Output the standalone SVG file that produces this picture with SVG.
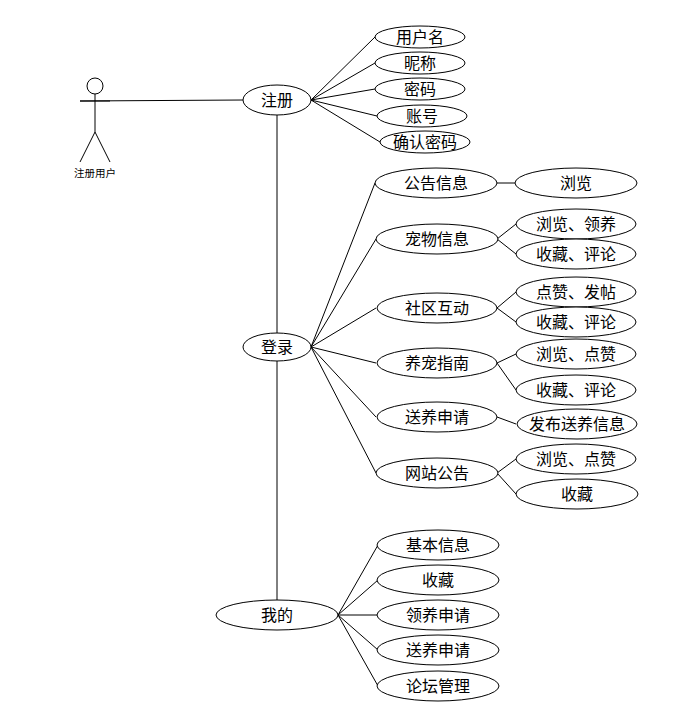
<svg xmlns="http://www.w3.org/2000/svg" width="687" height="718" viewBox="0 0 687 718">
<style>
ellipse{fill:#fff;stroke:#000;stroke-width:1}
line{stroke:#000;stroke-width:1;fill:none}
text{font-family:"Noto Sans CJK SC","Liberation Sans",sans-serif;font-size:16px;text-anchor:middle;dominant-baseline:central;fill:#000}
#actor text{font-size:10.5px}
#actor circle{fill:#fff;stroke:#000}
</style>
<rect width="687" height="718" fill="#fff"/>
<g id="connectors">
<line x1="80" y1="101" x2="243" y2="100"/>
<line x1="277" y1="115" x2="277" y2="334"/>
<line x1="277" y1="361" x2="277" y2="600"/>
<line x1="311" y1="100" x2="375" y2="37"/>
<line x1="311" y1="100" x2="375" y2="63"/>
<line x1="311" y1="100" x2="375" y2="89"/>
<line x1="311" y1="100" x2="377" y2="116"/>
<line x1="311" y1="100" x2="380" y2="142"/>
<line x1="311" y1="347" x2="375" y2="183"/>
<line x1="311" y1="347" x2="376" y2="239"/>
<line x1="311" y1="347" x2="376" y2="308"/>
<line x1="311" y1="347" x2="376" y2="363"/>
<line x1="311" y1="347" x2="376" y2="417"/>
<line x1="311" y1="347" x2="376" y2="473"/>
<line x1="496" y1="183" x2="515" y2="183"/>
<line x1="497" y1="239" x2="516" y2="224"/>
<line x1="497" y1="239" x2="516" y2="254"/>
<line x1="497" y1="308" x2="516" y2="292"/>
<line x1="497" y1="308" x2="516" y2="322"/>
<line x1="497" y1="363" x2="516" y2="354"/>
<line x1="497" y1="363" x2="516" y2="390"/>
<line x1="497" y1="417" x2="516" y2="424"/>
<line x1="497" y1="473" x2="516" y2="459"/>
<line x1="497" y1="473" x2="516" y2="494"/>
<line x1="338" y1="615" x2="378" y2="545"/>
<line x1="338" y1="615" x2="378" y2="580"/>
<line x1="338" y1="615" x2="378" y2="615"/>
<line x1="338" y1="615" x2="378" y2="650"/>
<line x1="338" y1="615" x2="378" y2="686"/>
</g>
<g id="actor">
<circle cx="95" cy="86" r="8"/>
<line x1="95" y1="94" x2="95" y2="132"/>
<line x1="80" y1="101" x2="110" y2="101"/>
<line x1="95" y1="132" x2="80" y2="162"/>
<line x1="95" y1="132" x2="110" y2="162"/>
<text x="95" y="172.5">注册用户</text>
</g>
<g id="n-register"><ellipse cx="277" cy="100" rx="34" ry="15"/><text x="277" y="98.5">注册</text></g>
<g id="n-login"><ellipse cx="277" cy="347" rx="34" ry="14"/><text x="277" y="345.5">登录</text></g>
<g id="n-mine"><ellipse cx="277" cy="615" rx="61" ry="15"/><text x="277" y="613.5">我的</text></g>
<g id="n-username"><ellipse cx="420" cy="37" rx="45" ry="11"/><text x="420" y="35.5">用户名</text></g>
<g id="n-nickname"><ellipse cx="420" cy="63" rx="45" ry="11"/><text x="420" y="61.5">昵称</text></g>
<g id="n-password"><ellipse cx="420" cy="89" rx="45" ry="11"/><text x="420" y="87.5">密码</text></g>
<g id="n-account"><ellipse cx="422" cy="116" rx="45" ry="11"/><text x="422" y="114.5">账号</text></g>
<g id="n-confirm"><ellipse cx="425" cy="142" rx="45" ry="11"/><text x="425" y="140.5">确认密码</text></g>
<g id="n-notice"><ellipse cx="436" cy="183" rx="61" ry="15"/><text x="436" y="181.5">公告信息</text></g>
<g id="n-browse"><ellipse cx="576" cy="183" rx="61" ry="15"/><text x="576" y="181.5">浏览</text></g>
<g id="n-pet"><ellipse cx="437" cy="239" rx="61" ry="15"/><text x="437" y="237.5">宠物信息</text></g>
<g id="n-pet1"><ellipse cx="576" cy="224" rx="60" ry="15"/><text x="576" y="222.5">浏览、领养</text></g>
<g id="n-pet2"><ellipse cx="576" cy="254" rx="60" ry="15"/><text x="576" y="252.5">收藏、评论</text></g>
<g id="n-community"><ellipse cx="437" cy="308" rx="60" ry="15"/><text x="437" y="306.5">社区互动</text></g>
<g id="n-com1"><ellipse cx="576" cy="292" rx="60" ry="15"/><text x="576" y="290.5">点赞、发帖</text></g>
<g id="n-com2"><ellipse cx="576" cy="322" rx="60" ry="15"/><text x="576" y="320.5">收藏、评论</text></g>
<g id="n-guide"><ellipse cx="437" cy="363" rx="60" ry="15"/><text x="437" y="361.5">养宠指南</text></g>
<g id="n-guide1"><ellipse cx="576" cy="354" rx="60" ry="15"/><text x="576" y="352.5">浏览、点赞</text></g>
<g id="n-guide2"><ellipse cx="576" cy="390" rx="60" ry="15"/><text x="576" y="388.5">收藏、评论</text></g>
<g id="n-rehome"><ellipse cx="437" cy="417" rx="60" ry="15"/><text x="437" y="415.5">送养申请</text></g>
<g id="n-rehome1"><ellipse cx="577" cy="424" rx="60" ry="15"/><text x="577" y="422.5">发布送养信息</text></g>
<g id="n-site"><ellipse cx="437" cy="473" rx="61" ry="15"/><text x="437" y="471.5">网站公告</text></g>
<g id="n-site1"><ellipse cx="576" cy="459" rx="60" ry="15"/><text x="576" y="457.5">浏览、点赞</text></g>
<g id="n-site2"><ellipse cx="577" cy="494" rx="61" ry="15"/><text x="577" y="492.5">收藏</text></g>
<g id="n-basic"><ellipse cx="438" cy="545" rx="61" ry="15"/><text x="438" y="543.5">基本信息</text></g>
<g id="n-fav"><ellipse cx="438" cy="580" rx="61" ry="15"/><text x="438" y="578.5">收藏</text></g>
<g id="n-adopt"><ellipse cx="438" cy="615" rx="61" ry="15"/><text x="438" y="613.5">领养申请</text></g>
<g id="n-rehome2"><ellipse cx="438" cy="650" rx="61" ry="15"/><text x="438" y="648.5">送养申请</text></g>
<g id="n-forum"><ellipse cx="438" cy="686" rx="61" ry="15"/><text x="438" y="684.5">论坛管理</text></g>
</svg>
